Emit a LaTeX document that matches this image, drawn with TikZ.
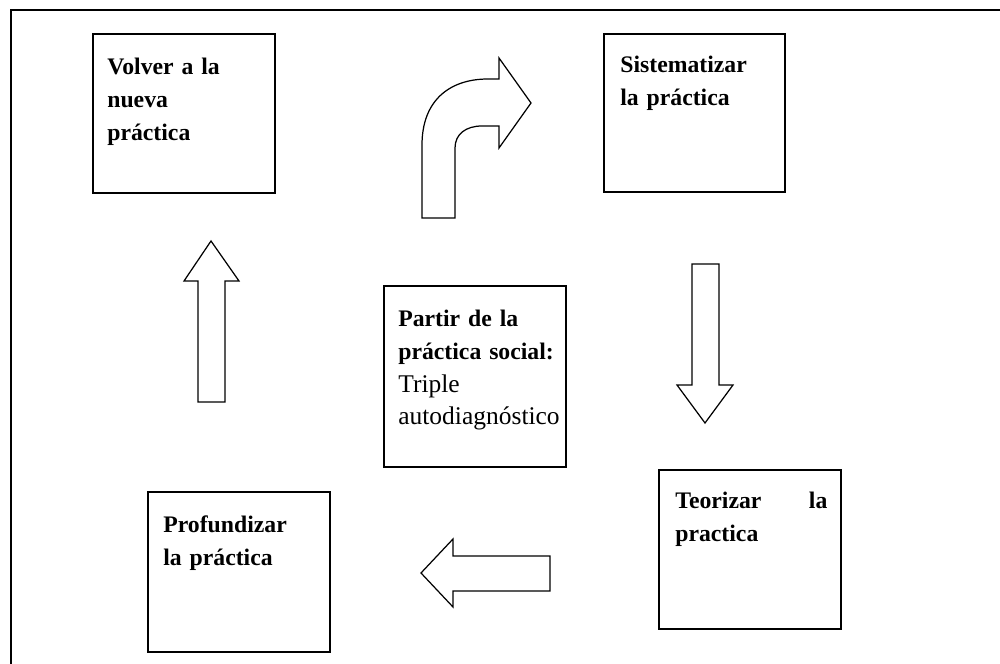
\documentclass[tikz,border=0pt]{standalone}
\usepackage{fontspec}
\setmainfont{Liberation Serif}
\newcommand{\lightpart}{\mdseries\fontsize{14.5pt}{18.5pt}\selectfont}
\tikzset{
  panel/.style={draw, line width=0.8pt},
  caption/.style={anchor=base west, inner sep=0pt, text width=30.4mm, align=left,
                  font=\bfseries\fontsize{13.5pt}{18.5pt}\selectfont},
  blockarrow/.style={draw, line width=0.7pt, line join=miter}
}
\begin{document}
\begin{tikzpicture}[x=0.2mm, y=-0.2mm]
         \useasboundingbox (0,0) rectangle (1000,664);
         %frame
         \draw[line width=1.6pt] (11,664) -- (11,10) -- (1000,10);
         %boxes
         \node[panel, minimum width=36.4mm, minimum height=31.8mm] at (184,113.5) (volver) {};
         \node[panel, minimum width=36.2mm, minimum height=31.6mm] at (694.5,113) (sistematizar) {};
         \node[panel, minimum width=36.4mm, minimum height=36.2mm] at (475,376.5) (partir) {};
         \node[panel, minimum width=36.4mm, minimum height=31.8mm] at (750,549.5) (teorizar) {};
         \node[panel, minimum width=36.4mm, minimum height=32mm] at (239,572) (profundizar) {};
         %texts
         \node[caption] at (107,75) (volvertxt) {Volver a la\\nueva\\práctica};
         \node[caption] at (620,73) (sistematizartxt) {Sistematizar\\la práctica};
         \node[caption, text width=34mm] at (398,327) (partirtxt) {Partir de la\\práctica social:\\\lightpart Triple\\autodiagnóstico};
         \node[caption] at (675,509) (teorizartxt) {Teorizar\hfill la\\practica};
         \node[caption] at (163,533) (profundizartxt) {Profundizar\\la práctica};
         % block arrows
         \draw[blockarrow] (422,218) -- (422,145) .. controls (422,100) and (450,79) .. (488,79)
            -- (499,79) -- (499,58) -- (531,103) -- (499,148) -- (499,126) -- (482,126)
            .. controls (466,126) and (455,134) .. (455,148) -- (455,218) -- cycle;
         \draw[blockarrow] (692,264) -- (719,264) -- (719,385) -- (733,385) -- (705,423)
            -- (677,385) -- (692,385) -- cycle;
         \draw[blockarrow] (550,556) -- (453,556) -- (453,539) -- (421,573) -- (453,607)
            -- (453,591) -- (550,591) -- cycle;
         \draw[blockarrow] (198,402) -- (198,281) -- (184,281) -- (211,241) -- (239,281)
            -- (225,281) -- (225,402) -- cycle;
\end{tikzpicture}
\end{document}
